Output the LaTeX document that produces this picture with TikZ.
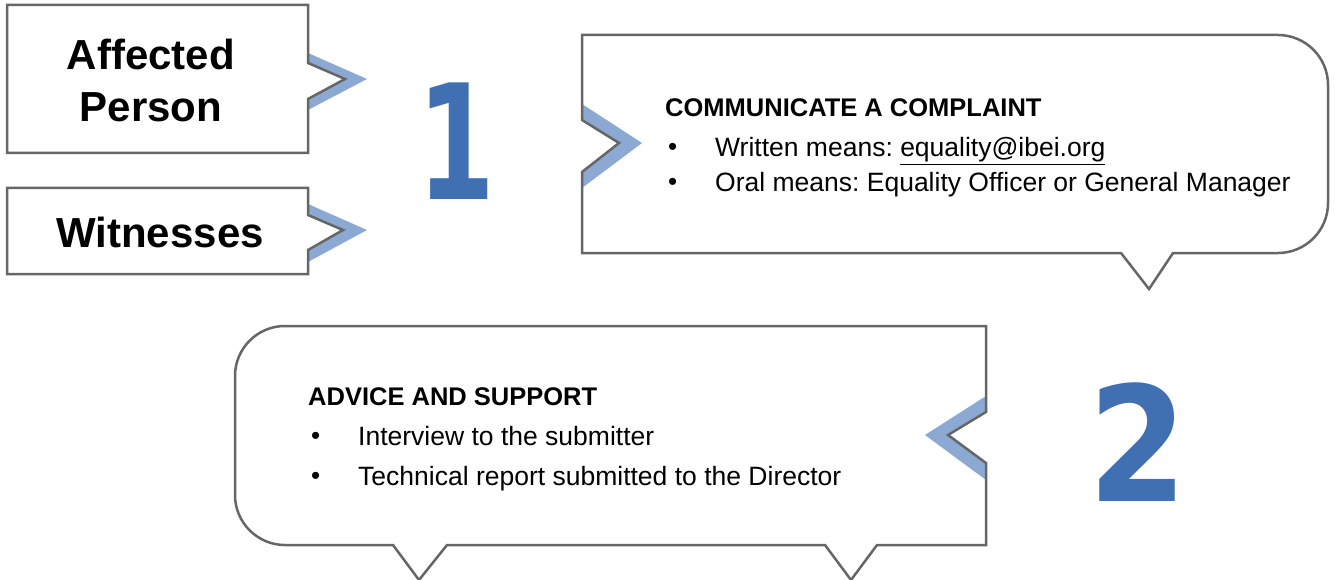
\documentclass[tikz,border=0pt]{standalone}
\usepackage{fontspec}
\setmainfont{Liberation Sans}
\newfontfamily\numfont{DejaVu Sans}
\definecolor{outline}{RGB}{102,102,102}
\definecolor{numblue}{RGB}{64,111,178}
\definecolor{chevblue}{RGB}{140,169,211}
\newcommand{\bul}{\makebox[47pt][l]{\fontsize{26}{26}\selectfont\raisebox{1pt}{•}}}
\frenchspacing

\begin{document}
\begin{tikzpicture}[x=1pt, y=-1pt,
    box/.style={draw=outline, line width=2.5pt, line join=miter},
    chev/.style={fill=chevblue},
    who/.style={inner sep=0pt, align=center, font=\bfseries\fontsize{42}{52}\selectfont},
    big/.style={inner sep=0pt, text=numblue, font=\numfont\bfseries\fontsize{160}{160}\selectfont},
    head/.style={anchor=base west, inner sep=0pt, font=\bfseries\fontsize{25.5}{30}\selectfont},
    item/.style={anchor=base west, inner sep=0pt, font=\fontsize{26.5}{30}\selectfont}]
    \useasboundingbox (0, 0) rectangle (1335, 580);

    \fill[chev] (308, 53) -- (367, 79) -- (308, 110) -- (308, 99) -- (345, 79) -- (308, 63) -- cycle;
    \fill[chev] (308, 204) -- (367, 230) -- (308, 262) -- (308, 250) -- (343, 230) -- (308, 215) -- cycle;
    \fill[chev] (582, 104) -- (642, 143) -- (582, 188) -- (582, 172) -- (619, 143) -- (582, 120) -- cycle;
    \fill[chev] (986, 396) -- (925, 435) -- (986, 480) -- (986, 463) -- (948, 435) -- (986, 412) -- cycle;

    \draw[box] (7, 5) -- (308, 5) -- (308, 63) -- (345, 79) -- (308, 99) -- (308, 153) -- (7, 153) -- cycle;
    \draw[box] (7, 188) -- (308, 188) -- (308, 215) -- (343, 230) -- (308, 250) -- (308, 274) -- (7, 274) -- cycle;
    \draw[box] (582, 35) -- (1278, 35) .. controls (1305.6, 35) and (1328, 57.4) .. (1328, 85)
        -- (1328, 203) .. controls (1328, 230.6) and (1305.6, 253) .. (1278, 253)
        -- (1173, 253) -- (1149, 289) -- (1121, 253) -- (582, 253)
        -- (582, 172) -- (619, 143) -- (582, 120) -- cycle;
    \draw[box] (285, 326) -- (986, 326) -- (986, 412) -- (948, 435) -- (986, 463) -- (986, 545)
        -- (877, 545) -- (851, 580) -- (825, 545) -- (447, 545) -- (419, 580) -- (393, 545)
        -- (285, 545) .. controls (257.4, 545) and (235, 522.6) .. (235, 495)
        -- (235, 376) .. controls (235, 348.4) and (257.4, 326) .. (285, 326) -- cycle;

    \node[who] (affected) at (151, 80) {Affected\\Person};
    \node[who] (witnesses) at (160, 232) {Witnesses};

    \node[big] (one) at (456, 141) {\scalebox{0.7}[1]{1}};
    \node[big] (two) at (1138, 442) {\scalebox{0.89}[1]{2}};

    \node[head] (complain) at (665, 117) {COMMUNICATE A COMPLAINT};
    \node[item] (written) at (668, 157) {\bul Written means: \underline{equality@ibei.org}};
    \node[item] (oral) at (668, 192) {\bul Oral means: Equality Officer or General Manager};

    \node[head] (advice) at (308, 405) {ADVICE AND SUPPORT};
    \node[item] (interview) at (311, 445) {\bul Interview to the submitter};
    \node[item] (report) at (311, 485) {\bul Technical report submitted to the Director};
\end{tikzpicture}
\end{document}
